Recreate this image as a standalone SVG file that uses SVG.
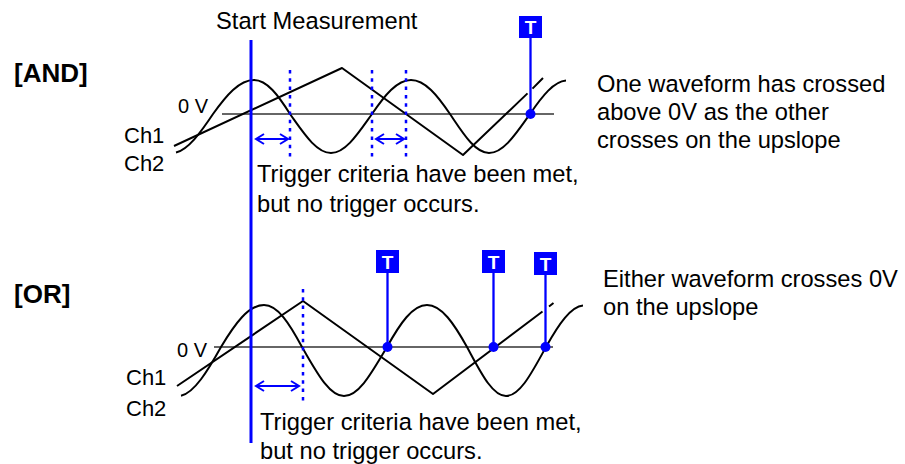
<svg xmlns="http://www.w3.org/2000/svg" width="905" height="464" viewBox="0 0 905 464">
<defs>
<style>
.t{font-family:"Liberation Sans",Arial,sans-serif;font-size:23.7px;fill:#000}
.hd{font-family:"Liberation Sans",Arial,sans-serif;font-size:26px;font-weight:bold;fill:#000}
.zl{font-family:"Liberation Sans",Arial,sans-serif;font-size:20px;fill:#000}
.ch{font-family:"Liberation Sans",Arial,sans-serif;font-size:22px;fill:#000}
.wave{fill:none;stroke:#000;stroke-width:2;stroke-linejoin:round}
.zero{stroke:#666;stroke-width:2}
.dots{stroke:#0000ff;stroke-width:2.5;stroke-dasharray:3.5 4.8}
.arr{stroke:#0000ff;stroke-width:2;fill:none;marker-start:url(#ah);marker-end:url(#ah)}
.tbox{fill:#0000ff}
.tt{font-family:"Liberation Sans",Arial,sans-serif;font-size:19px;font-weight:bold;fill:#fff;text-anchor:middle}
.tl{stroke:#0000ff;stroke-width:2.3}
.tp{fill:#0000ff}
.start{stroke:#0000ff;stroke-width:3}
</style>
<marker id="ah" markerUnits="userSpaceOnUse" markerWidth="12" markerHeight="12" refX="9" refY="6" orient="auto-start-reverse" viewBox="0 0 12 12">
<path d="M1,1 L9,6 L1,11" fill="none" stroke="#0000ff" stroke-width="2"/>
</marker>
</defs>
<rect width="905" height="464" fill="#fff"/>

<g id="labels">
<text class="t" x="216" y="28.5">Start Measurement</text>
<text class="hd" x="14" y="82">[AND]</text>
<text class="hd" x="14" y="303">[OR]</text>
</g>

<g id="and-axis">
<line class="zero" x1="222" y1="114" x2="554" y2="114"/>
<text class="zl" x="178" y="113">0 V</text>
<text class="ch" x="124" y="143">Ch1</text>
<text class="ch" x="124" y="171">Ch2</text>
</g>

<g id="and-waves">
<path class="wave" d="M176,152.5 C188.3,149.6 200.7,132.4 213,114 C226.4,95.3 239.2,80 254,80 C267,80 278.3,95.3 290,114 C303.4,132.7 316.2,153 331,153 C345.8,153 358.6,132.7 372,114 C384.7,95.3 396.9,80 411,80 C425.1,80 437.3,95.3 450,114 C462.7,132.7 474.9,153 489,153 C503.8,153 516.6,132.7 530,114 C542.7,95.3 554,81.5 566,80.5"/>
<path class="wave" d="M174,146 L342,68 L463,155 L527.5,93.4 M532.5,88.6 L543,78"/>
</g>

<g id="and-markers">
<line class="dots" x1="290" y1="70" x2="290" y2="157"/>
<line class="dots" x1="372" y1="70" x2="372" y2="157"/>
<line class="dots" x1="406" y1="70" x2="406" y2="157"/>
<line class="arr" x1="256" y1="139" x2="288" y2="139"/>
<line class="arr" x1="376" y1="139" x2="404" y2="139"/>
<text class="t" x="257" y="182">Trigger criteria have been met,</text>
<text class="t" x="257" y="212">but no trigger occurs.</text>
</g>

<g id="and-trigger">
<line class="tl" x1="530.5" y1="38" x2="530.5" y2="114"/>
<rect class="tbox" x="519" y="16" width="23" height="22"/>
<text class="tt" x="530.5" y="34">T</text>
<circle class="tp" cx="530.5" cy="114" r="5"/>
</g>

<g id="and-note">
<text class="t" x="597" y="91.5">One waveform has crossed</text>
<text class="t" x="597" y="120">above 0V as the other</text>
<text class="t" x="597" y="148">crosses on the upslope</text>
</g>

<g id="or-axis">
<line class="zero" x1="214" y1="347" x2="553" y2="347"/>
<text class="zl" x="177" y="356.5">0 V</text>
<text class="ch" x="126" y="385">Ch1</text>
<text class="ch" x="126" y="416">Ch2</text>
</g>

<g id="or-waves">
<path class="wave" d="M181,395.7 C194.3,393 207.7,370.8 221,347 C235,323.7 248.4,305 264,305 C277.8,305 289.6,323.7 302,347 C315.7,370.3 328.8,396 344,396 C359.6,396 373,370.3 387,347 C400,323.7 412.5,305 427,305 C441.5,305 454,323.7 467,347 C479.7,370.3 491.9,396 506,396 C520.5,396 533,370.3 546,347 C559,323.7 571,306.5 583,305.5"/>
<path class="wave" d="M177,386 L303,301 L433,394 L542.5,311.5 M549,306.5 L553.5,303"/>
</g>

<g id="or-markers">
<line class="dots" x1="303" y1="289" x2="303" y2="404"/>
<line class="arr" x1="256" y1="386" x2="299" y2="386"/>
<text class="t" x="260" y="430">Trigger criteria have been met,</text>
<text class="t" x="260" y="458.5">but no trigger occurs.</text>
</g>

<g id="or-trigger-1">
<line class="tl" x1="387.5" y1="273" x2="387.5" y2="347"/>
<rect class="tbox" x="376" y="250" width="23" height="23"/>
<text class="tt" x="387.5" y="268.5">T</text>
<circle class="tp" cx="387.5" cy="347" r="5"/>
</g>
<g id="or-trigger-2">
<line class="tl" x1="493.5" y1="273" x2="493.5" y2="347"/>
<rect class="tbox" x="482" y="250" width="23" height="23"/>
<text class="tt" x="493.5" y="268.5">T</text>
<circle class="tp" cx="493.5" cy="347" r="5"/>
</g>
<g id="or-trigger-3">
<line class="tl" x1="545.5" y1="275" x2="545.5" y2="347"/>
<rect class="tbox" x="534" y="252" width="23" height="23"/>
<text class="tt" x="545.5" y="270.5">T</text>
<circle class="tp" cx="545.5" cy="347" r="5"/>
</g>

<g id="or-note">
<text class="t" x="603" y="287">Either waveform crosses 0V</text>
<text class="t" x="603" y="315">on the upslope</text>
</g>

<g id="start-line">
<line class="start" x1="251" y1="40" x2="251" y2="443"/>
</g>
</svg>
